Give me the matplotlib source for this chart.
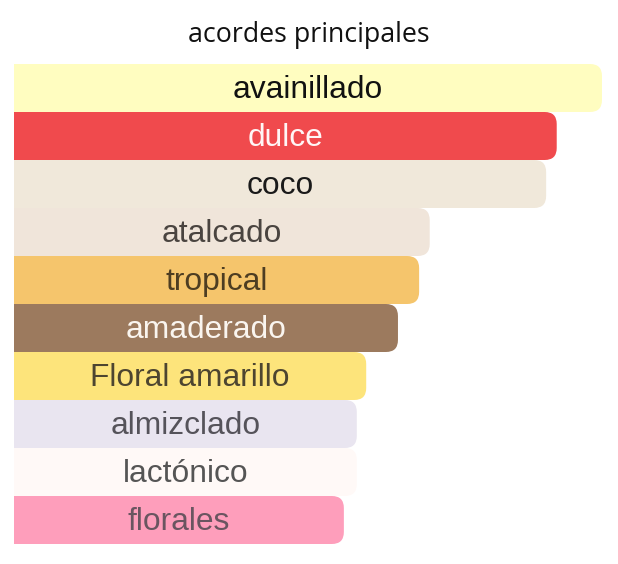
import matplotlib.pyplot as plt
from matplotlib.patches import FancyBboxPatch

# data (relative strength, top bar = 100)
acordes = ['avainillado', 'dulce', 'coco', 'atalcado', 'tropical',
           'amaderado', 'Floral amarillo', 'almizclado', 'lactónico', 'florales']
valores = [100, 92.3, 90.5, 70.7, 68.9, 65.3, 59.9, 58.3, 58.3, 56.1]
colores = ['#FFFDC0', '#F04A4D', '#F0E8DA', '#F0E5DA', '#F5C56C',
           '#9C7A5E', '#FDE47B', '#E9E5F0', '#FFF9F7', '#FE9EBB']
texto_col = ['#111111', '#FFF6F6', '#1A1A1A', '#4A4440', '#4D3D22',
             '#FAF5EF', '#4D4530', '#55535A', '#555555', '#6A5560']

W, H = 618, 564
fig = plt.figure(figsize=(W / 100, H / 100), dpi=100)
ax = fig.add_axes([0, 0, 1, 1])

px_x = 588 / 100.0          # pixels per value unit
px_y = 48.0                 # pixels per bar
ax.set_xlim(-14 / px_x, (W - 14) / px_x)
ax.set_ylim((H - 88) / px_y, -88 / px_y)
ax.axis('off')

r = 12 / px_x               # corner radius in x units
for i, (v, c) in enumerate(zip(valores, colores)):
    # square left part, rounded right end
    ax.barh(i, v - 2 * r, height=1.0, left=0, color=c, linewidth=0)
    ax.add_patch(FancyBboxPatch((v - 4 * r, i - 0.5), 4 * r, 1.0,
                                boxstyle='round,pad=0,rounding_size=%f' % r,
                                mutation_aspect=px_x / px_y,
                                facecolor=c, edgecolor='none'))

for i, (name, v, tc) in enumerate(zip(acordes, valores, texto_col)):
    ax.text(v / 2, i + 0.2, name, ha='center', va='baseline', fontsize=22.9,
            color=tc, family=['Liberation Sans', 'DejaVu Sans'])

fig.text(0.5, 1 - 41.7 / H, 'acordes principales', ha='center', va='baseline',
         fontsize=19.3, color='#111111', family=['Open Sans', 'DejaVu Sans'])

fig.savefig('out.png', dpi=100)
